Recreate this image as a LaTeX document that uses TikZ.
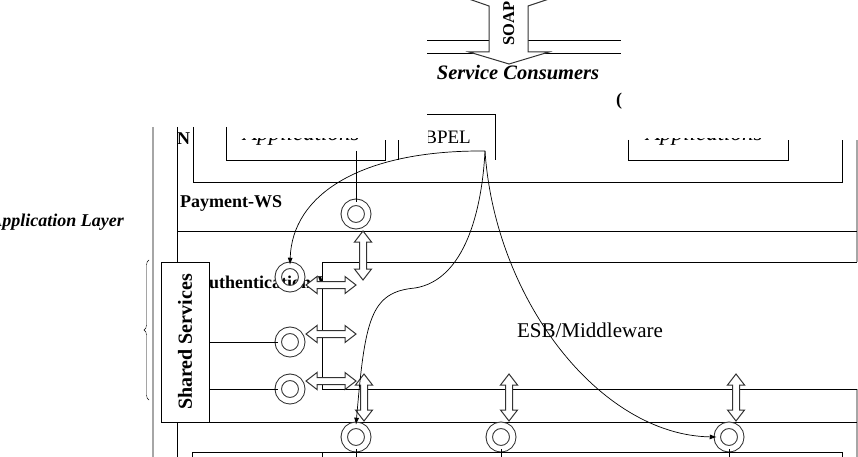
\documentclass[tikz,border=0pt]{standalone}
\usepackage{fontspec}
\setmainfont{Liberation Serif}
\usetikzlibrary{arrows.meta,calc,decorations.pathreplacing}

\newcommand{\lblfont}{\fontsize{18}{21}\selectfont\bfseries}
% hollow double arrows: x, top, bottom / y, left, right
\newcommand{\vdarrow}[3]{%
  \draw[blockarrow] (#1-3.5,#2+11) -- (#1-8.5,#2+11) -- (#1,#2) -- (#1+8.5,#2+11) -- (#1+3.5,#2+11)
    -- (#1+3.5,#3-11) -- (#1+8.5,#3-11) -- (#1,#3) -- (#1-8.5,#3-11) -- (#1-3.5,#3-11) -- cycle;}
\newcommand{\hdarrow}[3]{%
  \draw[blockarrow] (#2+11,#1-3.5) -- (#2+11,#1-8.5) -- (#2,#1) -- (#2+11,#1+8.5) -- (#2+11,#1+3.5)
    -- (#3-11,#1+3.5) -- (#3-11,#1+8.5) -- (#3,#1) -- (#3-11,#1-8.5) -- (#3-11,#1-3.5) -- cycle;}

\begin{document}
\begin{tikzpicture}[x=1pt, y=-1pt,
  wall/.style={line width=1pt},
  frame/.style={line width=1.8pt, draw=gray!70},
  svc/.style={circle, draw=gray!40!black, double=white, double distance=5.4pt, line width=1pt, minimum size=23.5pt, inner sep=0pt},
  blockarrow/.style={draw=gray!40!black, fill=white, line width=1pt},
  flow/.style={line width=0.7pt, -{Latex[length=7pt,width=5pt]}},
  lbl/.style={font=\lblfont, inner sep=0pt}
]
\useasboundingbox (0,0) rectangle (858,457);
\clip (0,0) rectangle (858,457);

% consumers
\draw[wall] (427,41) -- (621,41) (427,54) -- (621,54);
\draw[blockarrow] (489,6) -- (466,-2) -- (509,-22) -- (552,-2) -- (528,6) -- (528,52) -- (549,52)
  -- (509,64) -- (469,52) -- (489,52) -- cycle;
\node[font=\fontsize{16.5}{19}\selectfont\bfseries, inner sep=0pt, rotate=90, anchor=base west] (soap) at (514,46) {SOAP};
\node[font=\fontsize{20.5}{23}\selectfont\bfseries\itshape, anchor=base] (consumers) at (518,80) {Service Consumers};
\node[lbl, anchor=center] (paren) at (619,101) {(};

% application layer
\node[font=\fontsize{18}{21}\selectfont\bfseries\itshape, anchor=base east, inner sep=0pt] (layer) at (124,226) {Application Layer};
\draw[frame] (153,127) -- (153,457);
\draw[frame] (857,140) -- (857,457);
\draw[decorate, decoration={brace, amplitude=5pt}] (149,400) -- (149,260);
\draw[wall] (177,127) -- (177,457);
\node[lbl, anchor=base west] (nlbl) at (177,145) {N};
\draw[wall] (193,127) -- (193,182) -- (842,182) -- (842,140);
\draw[wall] (226,127) -- (226,161) -- (385,161) -- (385,140);
\draw[wall] (628,140) -- (628,161) -- (788,161) -- (788,140);
\draw[wall] (398,160) -- (398,140) (427,115) -- (495,115) -- (495,160);
\begin{scope}
  \clip (200,139) rectangle (820,150);
  \node[font=\fontsize{23}{26}\selectfont\itshape, anchor=base west, inner sep=0pt] (appone) at (243,140.5) {Applications};
  \node[font=\fontsize{23}{26}\selectfont\itshape, anchor=base west, inner sep=0pt] (apptwo) at (646,140.5) {Applications};
\end{scope}
\begin{scope}
  \clip (428,120) rectangle (494,150);
  \node[font=\fontsize{19}{22}\selectfont, anchor=base east, inner sep=0pt] (bpel) at (471,143) {BPEL};
\end{scope}
\coordinate (bp) at (485,151);

% payment
\node[lbl, anchor=base west] (paylbl) at (180,207) {Payment-WS};
\node[svc] (pay) at (356,214) {};
\draw[wall] (356,151) -- (pay.north);
\draw[wall] (177,231) -- (857,231);

% shared services
\node[lbl, anchor=base west] (authlbl) at (196,288) {Authentication-WS};
\node[draw, line width=1pt, fill=white, minimum width=48pt, minimum height=160pt, inner sep=0pt] (shared) at (185,342) {};
\node[font=\fontsize{20}{23}\selectfont\bfseries, rotate=90] (sharedlbl) at (shared.center) {Shared Services};
\node[svc] (auth) at (290,277) {};
\node[svc] (svcb) at (290,342) {};
\node[svc] (svcc) at (290,389) {};
\draw[wall] (shared.east |- svcb) -- (svcb.west);
\draw[wall] (shared.east |- svcc) -- (svcc.west);

% middleware
\fill[white] (322,262) rectangle (858,389);
\draw[wall] (857,262) -- (322,262) -- (322,389) -- (857,389);
\node[font=\fontsize{21}{24}\selectfont, anchor=base] (esb) at (590,337) {ESB/Middleware};
\draw[wall] (161,422) -- (857,422);

% providers
\node[svc] (provA) at (356,437) {};
\node[svc] (provB) at (501,437) {};
\node[svc] (provC) at (729,437) {};
\draw[wall] (192,457) -- (192,452) -- (842,452) -- (842,457);
\draw[wall] (322,452) -- (322,457);
\foreach \p in {provA,provB,provC}
  \draw[wall] (\p.south) -- ++(0,10);

% block arrows
\vdarrow{363}{231}{280}
\hdarrow{285}{306}{356}
\hdarrow{334}{306}{356}
\hdarrow{381}{306}{356}
\foreach \x in {364,509,736}
  {\vdarrow{\x}{374}{421}}

% flows from BPEL
\draw[flow] (bp) .. controls (360,150) and (292,195) .. (auth.north);
\draw[flow] (bp) .. controls (482,210) and (465,280) .. (415,288) .. controls (370,292) and (365,320) .. (provA.north);
\draw[flow] (bp) .. controls (495,300) and (600,435) .. (provC.west);
\end{tikzpicture}
\end{document}
